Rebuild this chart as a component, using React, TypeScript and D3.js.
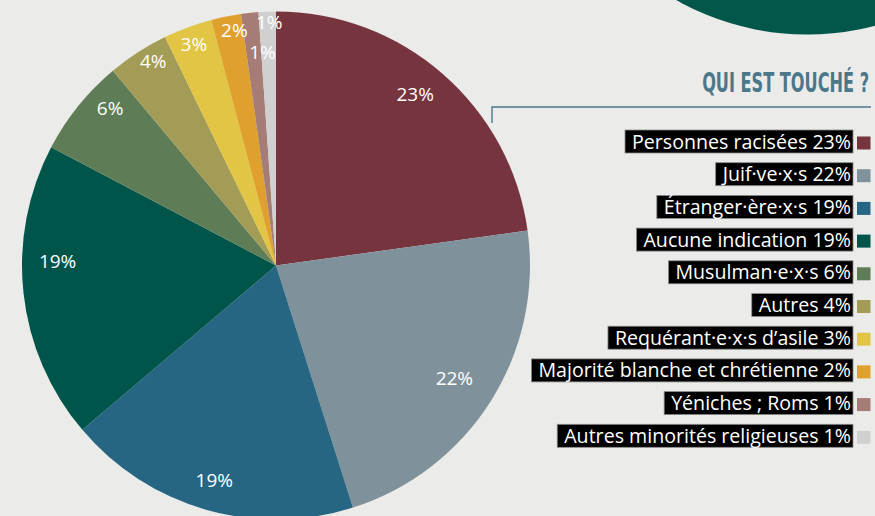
import React, { useEffect, useRef } from "react";
import * as d3 from "d3";

// ---- data ----
const categories = [
  "Personnes racisées",
  "Juif·ve·x·s",
  "Étranger·ère·x·s",
  "Aucune indication",
  "Musulman·e·x·s",
  "Autres",
  "Requérant·e·x·s d’asile",
  "Majorité blanche et chrétienne",
  "Yéniches ; Roms",
  "Autres minorités religieuses",
];
const shares = [22.8, 22.3, 18.7, 18.9, 6.2, 3.9, 3.1, 1.9, 1.1, 1.1];
const shareLabels = ["23%", "22%", "19%", "19%", "6%", "4%", "3%", "2%", "1%", "1%"];
const sliceColors = [
  "#76343f",
  "#7f929b",
  "#266683",
  "#00554a",
  "#5e7d57",
  "#a39c56",
  "#e2c544",
  "#e0a02e",
  "#a57d76",
  "#d0d0d0",
];
const title = "QUI EST TOUCHÉ ?";

// ---- layout / style ----
const W = 875;
const H = 516;
const CX = 276;
const CY = 265.5;
const R = 254;
const labelRadiusFactor = [0.87, 0.83, 0.88, 0.86, 0.9, 0.94, 0.93, 0.94, 0.84, 0.96];
const labelAngleNudgeDeg = [-2, 0, 0, 7.5, 4.6, 2, 0, 1.3, 2.3, 0.4];
const FONT = "'Open Sans', 'Noto Sans', sans-serif";
const BG = "#ebebe9";
const ACCENT = "#4b778a";

export default function App() {
  const ref = useRef<SVGSVGElement | null>(null);

  useEffect(() => {
    const svg = d3.select(ref.current);
    svg.selectAll("*").remove();

    svg.append("rect").attr("width", W).attr("height", H).attr("fill", BG);

    // decorative circle top-right
    svg
      .append("circle")
      .attr("cx", 807)
      .attr("cy", -231)
      .attr("r", 265.5)
      .attr("fill", "#02574a");

    // pie
    const pie = d3
      .pie<number>()
      .sort(null)
      .value((d) => d)
      .startAngle(0)
      .endAngle(2 * Math.PI);
    const arcs = pie(shares);
    const arc = d3.arc<d3.PieArcDatum<number>>().innerRadius(0).outerRadius(R);

    const g = svg.append("g").attr("transform", `translate(${CX},${CY})`);
    g.selectAll("path")
      .data(arcs)
      .join("path")
      .attr("d", arc)
      .attr("fill", (_, i) => sliceColors[i]);

    const labelAngle = (d: d3.PieArcDatum<number>, i: number) =>
      (d.startAngle + d.endAngle) / 2 + (labelAngleNudgeDeg[i] * Math.PI) / 180;

    g.selectAll("text")
      .data(arcs)
      .join("text")
      .attr("x", (d, i) => Math.sin(labelAngle(d, i)) * R * labelRadiusFactor[i])
      .attr("y", (d, i) => -Math.cos(labelAngle(d, i)) * R * labelRadiusFactor[i])
      .attr("dy", "0.36em")
      .attr("text-anchor", "middle")
      .attr("fill", "#ffffff")
      .attr("font-family", FONT)
      .attr("font-size", 19)
      .text((_, i) => shareLabels[i]);

    // title + connector
    const titleEl = svg
      .append("text")
      .attr("x", 0)
      .attr("y", 0)
      .attr("text-anchor", "end")
      .attr("font-family", "'Liberation Sans Narrow', 'DejaVu Sans Condensed', 'Roboto', sans-serif")
      .attr("font-weight", 700)
      .attr("font-size", 27)
      .attr("fill", ACCENT)
      .text(title);
    const natural = (titleEl.node() as SVGTextElement).getComputedTextLength() || 167;
    titleEl.attr("transform", `translate(869,92) scale(${167 / natural},1)`);

    svg
      .append("path")
      .attr("d", "M492,123 V107 H871")
      .attr("fill", "none")
      .attr("stroke", ACCENT)
      .attr("stroke-width", 1.4);

    // legend
    const rowY = d3
      .scaleLinear()
      .domain([0, categories.length - 1])
      .range([130, 130 + 32.7 * (categories.length - 1)]);
    const textRight = 851;
    const leg = svg.append("g");
    categories.forEach((c, i) => {
      const y = rowY(i);
      const row = leg.append("g");
      const box = row.append("rect");
      const t = row
        .append("text")
        .attr("x", textRight)
        .attr("y", y + 18.5)
        .attr("text-anchor", "end")
        .attr("fill", "#ffffff")
        .attr("font-family", FONT)
        .attr("font-size", 19.6)
        .text(`${c} ${shareLabels[i]}`);
      const w = (t.node() as SVGTextElement).getComputedTextLength();
      box
        .attr("x", textRight - w - 7)
        .attr("y", y)
        .attr("width", w + 9)
        .attr("height", 23)
        .attr("fill", "#000000")
        .attr("stroke", "#8a8a8a")
        .attr("stroke-width", 0.8);
      row
        .append("rect")
        .attr("x", 857)
        .attr("y", y + 6.5)
        .attr("width", 13.5)
        .attr("height", 13)
        .attr("fill", sliceColors[i]);
    });
  }, []);

  return (
    <svg
      ref={ref}
      width={W}
      height={H}
      style={{ position: "absolute", left: 0, top: 0, display: "block" }}
    />
  );
}
